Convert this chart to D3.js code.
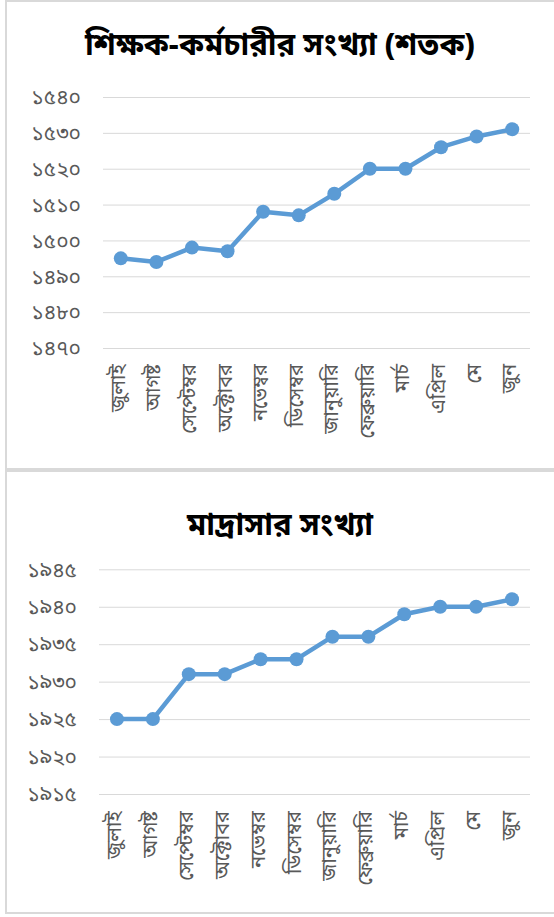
<!DOCTYPE html>
<html>
<head>
<meta charset="utf-8">
<script src="https://cdn.jsdelivr.net/npm/d3@7"></script>
<style>
  body { margin: 0; background: #fff; }
  svg text { font-family: "Vrinda", "Nirmala UI", "Noto Sans Bengali", "Lohit Bengali", "FreeSans", sans-serif; }
</style>
</head>
<body>
<div id="chart"></div>
<script>
// months (x categories), shared by both charts
var months = ["জুলাই", "আগষ্ট", "সেপ্টেম্বর", "অক্টোবর", "নভেম্বর", "ডিসেম্বর",
    "জানুয়ারি", "ফেব্রুয়ারি", "মার্চ", "এপ্রিল", "মে", "জুন"];

// chart 1: teachers & staff (hundreds)
var staffTitle = "শিক্ষক-কর্মচারীর সংখ্যা (শতক)";
var staffValues = [1495, 1494, 1498, 1497, 1508, 1507, 1513, 1520, 1520, 1526, 1529, 1531];
var staffTicks = [1470, 1480, 1490, 1500, 1510, 1520, 1530, 1540];

// chart 2: madrasa count
var madrasaTitle = "মাদ্রাসার সংখ্যা";
var madrasaValues = [1925, 1925, 1931, 1931, 1933, 1933, 1936, 1936, 1939, 1940, 1940, 1941];
var madrasaTicks = [1915, 1920, 1925, 1930, 1935, 1940, 1945];

var bnDigits = "০১২৩৪৫৬৭৮৯";
function bn(n) {
    return String(n).replace(/[0-9]/g, function (c) { return bnDigits[+c]; });
}

var W = 554, H = 917;
var svg = d3.select("#chart").append("svg")
    .attr("width", W)
    .attr("height", H);

function drawChart(opt) {
    var g = svg.append("g")
        .attr("transform", "translate(0," + opt.top + ")");

    // panel border
    g.append("rect")
        .attr("x", 6).attr("y", 1)
        .attr("width", W + 10).attr("height", opt.height)
        .attr("fill", "#fff")
        .attr("stroke", "#d9d9d9")
        .attr("stroke-width", 2);

    g.append("text")
        .attr("x", 280)
        .attr("y", opt.titleY)
        .attr("text-anchor", "middle")
        .attr("dominant-baseline", "middle")
        .style("font-size", "31px")
        .style("font-weight", "bold")
        .attr("fill", "#000")
        .text(opt.title);

    var y = d3.scaleLinear()
        .domain(d3.extent(opt.ticks))
        .range([opt.plotBottom, opt.plotTop]);

    var x = d3.scaleBand()
        .domain(months)
        .range([opt.plotLeft, opt.plotRight]);

    var yAxis = g.append("g")
        .attr("transform", "translate(" + opt.plotLeft + ",0)")
        .call(d3.axisLeft(y)
            .tickValues(opt.ticks)
            .tickSize(-(opt.plotRight - opt.plotLeft))
            .tickPadding(opt.labelPad)
            .tickFormat(bn));
    yAxis.select(".domain").remove();
    yAxis.selectAll(".tick line").attr("stroke", "#d9d9d9").attr("stroke-width", 1);
    yAxis.selectAll(".tick text")
        .attr("fill", "#595959")
        .style("font-size", "21px");

    var xAxis = g.append("g")
        .attr("transform", "translate(0," + opt.plotBottom + ")")
        .call(d3.axisBottom(x).tickSize(0).tickPadding(0));
    xAxis.select(".domain").remove();
    xAxis.selectAll(".tick text")
        .attr("fill", "#595959")
        .style("font-size", "20px")
        .attr("text-anchor", "end")
        .attr("dy", "0.35em")
        .attr("transform", "translate(-3," + opt.xLabelGap + ") rotate(-90)")
        .attr("x", 0).attr("y", 0);

    g.append("path")
        .datum(opt.values)
        .attr("fill", "none")
        .attr("stroke", "#5b9bd5")
        .attr("stroke-width", 4.5)
        .attr("stroke-linejoin", "round")
        .attr("d", d3.line()
            .x(function (d, i) { return x(months[i]) + x.bandwidth() / 2; })
            .y(function (d) { return y(d); }));

    g.selectAll("circle.pt")
        .data(opt.values)
        .enter()
        .append("circle")
        .attr("class", "pt")
        .attr("cx", function (d, i) { return x(months[i]) + x.bandwidth() / 2; })
        .attr("cy", function (d) { return y(d); })
        .attr("r", 7)
        .attr("fill", "#5b9bd5");
}

drawChart({
    top: 0, height: 468, title: staffTitle, titleY: 47,
    values: staffValues, ticks: staffTicks,
    plotLeft: 103, plotRight: 530, plotTop: 97, plotBottom: 348,
    labelPad: 22, xLabelGap: 16
});

drawChart({
    top: 470, height: 442, title: madrasaTitle, titleY: 57,
    values: madrasaValues, ticks: madrasaTicks,
    plotLeft: 99, plotRight: 530, plotTop: 99.3, plotBottom: 324,
    labelPad: 22, xLabelGap: 17
});
</script>
</body>
</html>
